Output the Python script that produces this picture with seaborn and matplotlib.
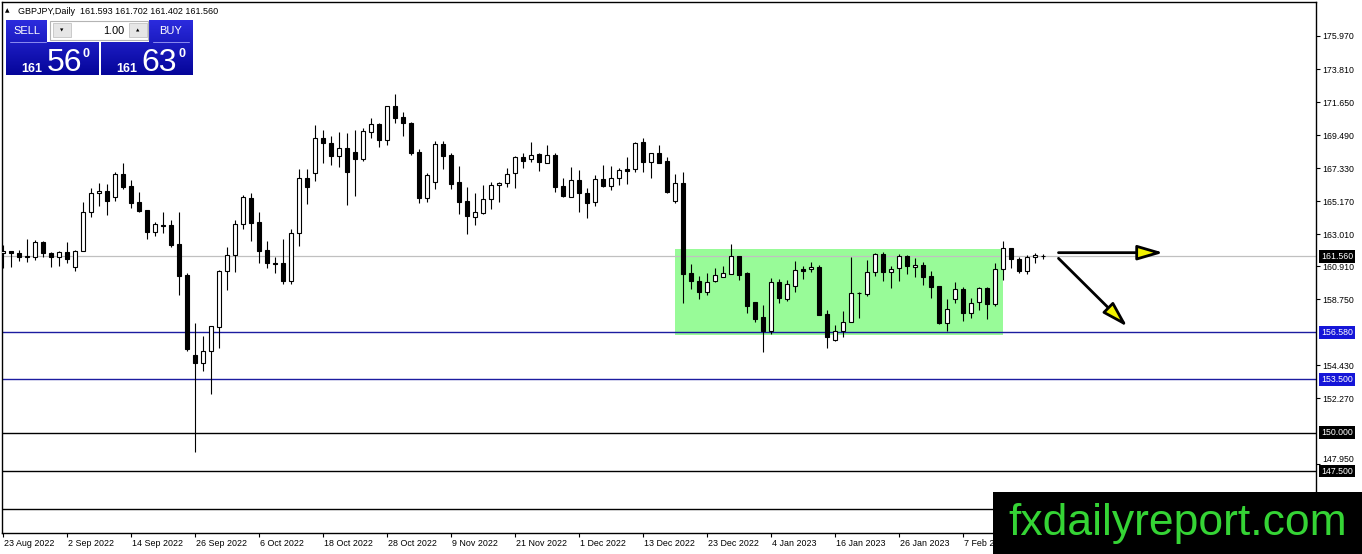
import numpy as np
import pandas as pd
import matplotlib
matplotlib.use("Agg")
import matplotlib.pyplot as plt
import matplotlib.transforms as mtransforms
from matplotlib.patches import Rectangle
import seaborn as sns

# ---------------- data (GBPJPY daily) ----------------
first_date = "2022-08-23"
opens = [161.75, 161.88, 161.74, 161.48, 161.48, 162.46, 161.74, 161.48, 161.81, 160.83,
         161.88, 164.47, 165.67, 165.80, 165.45, 166.91, 166.15, 165.10, 164.58, 163.16,
         163.58, 163.58, 162.35, 160.33, 155.09, 154.59, 155.33, 156.94, 160.59, 161.63,
         163.66, 165.37, 163.77, 161.96, 161.13, 161.09, 159.95, 163.05, 166.65, 166.98,
         169.27, 168.94, 168.14, 168.62, 168.40, 167.94, 169.66, 170.21, 169.16, 171.39,
         170.65, 170.30, 168.40, 165.39, 166.44, 168.90, 168.18, 166.44, 165.17, 164.10,
         164.41, 165.28, 166.19, 166.33, 166.98, 168.07, 167.90, 168.25, 167.68, 168.18,
         166.15, 165.45, 166.54, 165.67, 165.13, 166.59, 166.17, 166.70, 167.26, 167.26,
         169.03, 167.74, 168.29, 167.81, 165.19, 166.32, 160.43, 159.95, 159.23, 159.95,
         160.21, 160.39, 161.57, 160.43, 158.53, 157.55, 156.68, 159.89, 158.75, 159.60,
         160.69, 160.69, 160.87, 157.77, 156.07, 156.68, 157.27, 159.12, 159.08, 160.54,
         161.68, 160.50, 160.76, 161.57, 160.83, 160.98, 160.26, 159.60, 157.22, 158.73,
         159.39, 157.81, 158.53, 159.45, 158.41, 160.70, 162.08, 161.36, 160.61, 161.49,
         161.593]
highs = [162.29, 161.88, 161.96, 162.66, 162.62, 162.55, 161.85, 161.92, 162.46, 161.96,
         165.08, 166.00, 166.33, 166.28, 167.05, 167.68, 166.54, 165.76, 164.58, 163.82,
         164.43, 163.93, 164.43, 160.48, 157.16, 156.33, 157.02, 160.65, 162.18, 163.93,
         165.56, 165.67, 164.43, 162.57, 161.53, 162.66, 163.34, 167.24, 167.24, 170.14,
         169.82, 169.42, 169.71, 169.60, 169.82, 169.93, 170.62, 170.30, 171.42, 172.17,
         170.97, 170.35, 168.55, 166.98, 169.10, 169.10, 168.29, 167.46, 166.11, 165.71,
         166.22, 166.44, 166.44, 167.35, 168.10, 168.33, 169.03, 168.33, 168.84, 168.33,
         166.65, 167.37, 167.20, 166.00, 166.87, 167.53, 167.46, 167.31, 168.03, 169.05,
         169.27, 168.33, 168.84, 168.03, 166.94, 167.04, 161.04, 160.26, 160.48, 160.76,
         160.91, 162.35, 161.60, 160.54, 158.58, 158.36, 160.11, 160.04, 159.99, 161.24,
         160.91, 161.20, 160.98, 158.03, 157.05, 157.97, 161.52, 159.19, 161.30, 161.79,
         161.81, 160.91, 161.70, 161.63, 161.41, 161.15, 160.61, 159.62, 158.73, 159.89,
         159.52, 158.80, 159.52, 159.56, 161.14, 162.58, 162.10, 161.49, 161.66, 161.75,
         161.702]
lows = [160.76, 160.82, 161.26, 161.20, 161.31, 161.48, 160.87, 160.94, 161.13, 160.61,
        161.88, 164.14, 164.84, 164.27, 165.19, 165.98, 164.73, 164.43, 162.70, 162.90,
        163.05, 162.18, 159.02, 155.37, 148.76, 154.06, 152.51, 155.55, 159.34, 160.54,
        163.34, 162.57, 161.09, 160.76, 160.43, 159.74, 159.74, 162.25, 164.97, 166.50,
        167.63, 167.53, 167.42, 164.91, 165.50, 167.81, 169.32, 168.73, 168.84, 170.30,
        169.42, 168.18, 165.06, 165.13, 165.98, 167.26, 165.93, 164.32, 163.01, 163.60,
        164.32, 164.65, 165.08, 166.06, 166.04, 167.35, 167.74, 167.16, 167.64, 165.78,
        165.43, 165.43, 164.47, 164.04, 164.84, 166.11, 165.89, 166.22, 166.28, 167.09,
        167.09, 166.70, 167.64, 165.72, 165.02, 158.51, 159.39, 158.75, 159.02, 159.89,
        160.17, 160.39, 159.99, 157.81, 157.27, 155.31, 156.46, 158.47, 158.62, 159.23,
        160.04, 160.54, 157.68, 155.57, 156.03, 156.29, 157.25, 157.53, 158.95, 160.28,
        159.95, 159.45, 159.95, 160.39, 160.17, 159.67, 158.84, 157.11, 156.68, 158.47,
        157.31, 157.53, 158.03, 157.44, 158.30, 160.00, 160.77, 160.44, 160.40, 161.14,
        161.402]
closes = [161.88, 161.75, 161.48, 161.57, 162.46, 161.74, 161.48, 161.81, 161.35, 161.88,
          164.47, 165.67, 165.80, 165.19, 166.91, 166.06, 165.06, 164.54, 163.16, 163.64,
          163.54, 162.29, 160.28, 155.46, 154.59, 155.33, 156.99, 160.59, 161.63, 163.66,
          165.41, 163.75, 161.92, 161.13, 161.02, 159.95, 163.05, 166.65, 166.06, 169.27,
          168.94, 168.14, 168.62, 167.09, 167.94, 169.75, 170.21, 169.16, 171.39, 170.62,
          170.25, 168.33, 165.39, 166.87, 168.90, 168.12, 166.28, 165.13, 164.19, 164.43,
          165.28, 166.22, 166.33, 166.91, 168.07, 167.81, 168.20, 167.74, 168.20, 166.11,
          165.47, 166.54, 165.67, 165.02, 166.59, 166.17, 166.70, 167.20, 167.15, 168.99,
          167.74, 168.29, 167.68, 165.78, 166.32, 160.39, 159.95, 159.23, 159.89, 160.32,
          160.48, 161.57, 160.32, 158.32, 157.44, 156.68, 159.84, 158.80, 159.73, 160.65,
          160.61, 160.85, 157.70, 156.29, 156.68, 157.27, 159.12, 159.17, 160.54, 161.68,
          160.54, 160.72, 161.57, 160.94, 160.98, 160.21, 159.56, 157.20, 158.08, 159.39,
          157.81, 158.51, 159.45, 158.40, 160.70, 162.08, 161.36, 160.61, 161.49, 161.66,
          161.560]

date_labels = ["23 Aug 2022", "2 Sep 2022", "14 Sep 2022", "26 Sep 2022", "6 Oct 2022",
               "18 Oct 2022", "28 Oct 2022", "9 Nov 2022", "21 Nov 2022", "1 Dec 2022",
               "13 Dec 2022", "23 Dec 2022", "4 Jan 2023", "16 Jan 2023", "26 Jan 2023",
               "7 Feb 2023"]
price_ticks = [175.970, 173.810, 171.650, 169.490, 167.330, 165.170, 163.010,
               160.910, 158.750, 154.430, 152.270, 147.950]
bid_price = 161.560
blue_levels = [156.580, 153.500]
black_levels = [150.000, 147.500, 145.000]
range_dates = ["2022-12-19", "2023-02-14"]
range_prices = [156.37, 162.00]
# projected arrows (bar index, price) -> (bar index, price)
arrow_flat = [(131.9, 161.79), (145.0, 161.79)]
arrow_down = [(131.9, 161.42), (140.5, 156.95)]
header = "GBPJPY,Daily  161.593 161.702 161.402 161.560"

# ---------------- style ----------------
sns.set_theme(style="white")
plt.rcParams["font.family"] = ["Liberation Sans", "DejaVu Sans"]

W, H = 1362, 554
fig = plt.figure(figsize=(W / 100, H / 100), dpi=100)
fig.patch.set_facecolor("white")

px_left, px_right, px_top, px_bottom = 2.3, 1316.3, 2.0, 533.3
ax = fig.add_axes([px_left / W, 1 - px_bottom / H, (px_right - px_left) / W, (px_bottom - px_top) / H])
ax.set_facecolor("white")

dates = pd.bdate_range(first_date, periods=len(opens))
df = pd.DataFrame({"date": dates, "open": opens, "high": highs, "low": lows, "close": closes})
df["x"] = np.arange(len(df))
df["bull"] = df["close"] >= df["open"]
df["bottom"] = df[["open", "close"]].min(axis=1)
df["height"] = (df["close"] - df["open"]).abs().clip(lower=0.015)

# range rectangle
x0 = dates.get_loc(pd.Timestamp(range_dates[0]))
x1 = dates.get_loc(pd.Timestamp(range_dates[1]))
ax.add_patch(Rectangle((x0, range_prices[0]), x1 - x0, range_prices[1] - range_prices[0],
                       facecolor="#98fb98", edgecolor="none", zorder=1))

# horizontal levels
ax.axhline(bid_price, color="#c0c0c0", lw=0.9, zorder=2)
for lv in blue_levels:
    ax.axhline(lv, color="#1c1ca0", lw=1.0, zorder=2)
for lv in black_levels:
    ax.axhline(lv, color="black", lw=1.0, zorder=2)

# candles
ax.vlines(df["x"], df["low"], df["high"], color="black", lw=0.8, zorder=3)
bull = df[df["bull"]]
bear = df[~df["bull"]]
ax.bar(bull["x"], bull["height"], bottom=bull["bottom"], width=0.52,
       facecolor="white", edgecolor="black", linewidth=0.8, zorder=4)
ax.bar(bear["x"], bear["height"], bottom=bear["bottom"], width=0.52,
       facecolor="black", edgecolor="black", linewidth=0.8, zorder=4)

# arrows
for (s, e) in (arrow_flat, arrow_down):
    ax.annotate("", xy=e, xytext=s,
                arrowprops=dict(arrowstyle="-|>,head_length=1.3,head_width=0.38",
                                lw=2.0, ec="black", fc="#f2f200",
                                shrinkA=0, shrinkB=0), zorder=6)

# axes limits: pixel-consistent (8 px per bar, 15.28 px per yen)
ax.set_xlim(-0.125, 164.125)
ax.set_ylim(143.425, 178.195)

# axes decoration
for sp in ax.spines.values():
    sp.set_color("black")
    sp.set_linewidth(1.0)
ax.grid(False)
ax.yaxis.tick_right()
ax.set_yticks(price_ticks)
ax.set_yticklabels([f"{p:.3f}" for p in price_ticks])
ax.tick_params(axis="y", which="both", direction="out", length=2.9, width=0.8,
               pad=1.6, labelsize=6.3, colors="black", left=False, right=True)
# the lowest scale label sits just above the 147.500 marker instead of under it
for t in ax.get_yticklabels():
    if t.get_text() == f"{price_ticks[-1]:.3f}":
        t.set_va("bottom")
        t.set_transform(t.get_transform() + mtransforms.ScaledTranslation(0, 0.5 / 100, fig.dpi_scale_trans))

tick_pos = [dates.get_loc(pd.Timestamp(pd.to_datetime(lbl, format="%d %b %Y"))) for lbl in date_labels]
ax.set_xticks(tick_pos)
ax.set_xticklabels(date_labels, ha="left")
ax.tick_params(axis="x", which="both", direction="out", length=2.9, width=0.8,
               pad=1.5, labelsize=6.4, colors="black", bottom=True)
off = mtransforms.ScaledTranslation(1 / 100, 0, fig.dpi_scale_trans)
for t in ax.get_xticklabels():
    t.set_transform(t.get_transform() + off)

# colored price labels on the price scale
ylab_trans = mtransforms.offset_copy(mtransforms.blended_transform_factory(ax.transAxes, ax.transData),
                                     fig=fig, x=5, y=0, units="dots")
label_levels = [(bid_price, "black")] + [(lv, "#1515d8") for lv in blue_levels] + \
               [(lv, "black") for lv in black_levels[:2]]
for lv, col in label_levels:
    ax.text(1.0, lv, f"{lv:.3f}", transform=ylab_trans, ha="left", va="center",
            fontsize=6.3, color="white", clip_on=False, zorder=7,
            bbox=dict(boxstyle="square,pad=0.22", fc=col, ec="none"))

# ---------------- overlay (header, trade panel, logo) ----------------
ov = fig.add_axes([0, 0, 1, 1])
ov.set_zorder(10)
ov.axis("off")

def grad_box(xa, xb, ya, yb):
    ys = np.linspace(ya, yb, 60)
    t = (ys - 20.5) / (75.5 - 20.5)
    top = np.array([0.17, 0.17, 0.87])
    bot = np.array([0.02, 0.02, 0.60])
    cols = top[None, :] * (1 - t[:, None]) + bot[None, :] * t[:, None]
    ov.imshow(cols[:, None, :], extent=(xa, xb, yb, ya), aspect="auto",
              interpolation="bilinear", zorder=1)

grad_box(6, 47, 20.5, 42.5)
grad_box(6, 98.7, 42.5, 75.5)
grad_box(149.3, 192.7, 20.5, 42.5)
grad_box(101.3, 192.7, 42.5, 75.5)
ov.plot([10, 46], [41.8, 41.8], color="#8c8cf0", lw=0.7, zorder=2)
ov.plot([153, 189], [41.8, 41.8], color="#8c8cf0", lw=0.7, zorder=2)

ov.add_patch(Rectangle((50, 20.5), 98, 19, fc="white", ec="#b4b4b4", lw=0.8, zorder=2))
ov.add_patch(Rectangle((53, 22.7), 17.5, 14.6, fc="#e6e6e6", ec="#c4c4c4", lw=0.6, zorder=3))
ov.add_patch(Rectangle((129, 22.7), 17.5, 14.6, fc="#e6e6e6", ec="#c4c4c4", lw=0.6, zorder=3))
ov.text(61.8, 30.2, "\u25BC", fontsize=3.2, ha="center", va="center", color="black",
        family="DejaVu Sans", zorder=4)
ov.text(137.8, 30.0, "\u25B2", fontsize=3.2, ha="center", va="center", color="black",
        family="DejaVu Sans", zorder=4)
ov.text(124, 31.0, "1.00", fontsize=7.8, ha="right", va="center", color="black", zorder=4)

ov.text(26.5, 31.5, "SELL", fontsize=8, ha="center", va="center", color="white", zorder=4)
ov.text(170.5, 31.5, "BUY", fontsize=8, ha="center", va="center", color="white", zorder=4)
for cx_small, cx_big, cx_sup, big in ((32.2, 64.7, 86.3, "56"), (127.0, 159.0, 182.0, "63")):
    ov.text(cx_small, 71.6, "161", fontsize=9, fontweight="bold", ha="center",
            va="baseline", color="white", zorder=4)
    ov.text(cx_big, 71.0, big, fontsize=23, ha="center", va="baseline", color="white", zorder=4)
    ov.text(cx_sup, 56.8, "0", fontsize=9, fontweight="bold", ha="center",
            va="baseline", color="white", zorder=4)

ov.text(7.5, 11, "\u25B2", fontsize=4.2, ha="center", va="center", color="black",
        family="DejaVu Sans", zorder=4)
ov.text(18.3, 11, header, fontsize=6.45, ha="left", va="center", color="black", zorder=4)

ov.add_patch(Rectangle((993, 492), W - 993, H - 492, fc="black", ec="none", zorder=5))
ov.text(1178, 523.5, "fxdailyreport.com", fontsize=32, ha="center", va="center",
        color="#35d435", zorder=6)

ov.set_xlim(0, W)
ov.set_ylim(H, 0)

fig.savefig("out.png", dpi=100)
